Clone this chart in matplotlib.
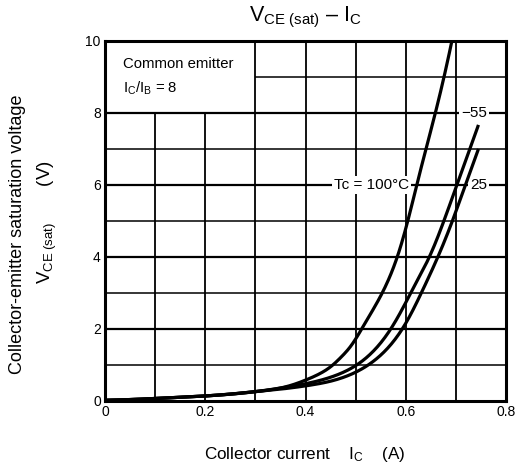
import numpy as np
import matplotlib
matplotlib.use("Agg")
import matplotlib.pyplot as plt

plt.rcParams['font.family'] = ['Liberation Sans', 'DejaVu Sans']
plt.rcParams['mathtext.fontset'] = 'custom'
plt.rcParams['mathtext.rm'] = 'Liberation Sans'
plt.rcParams['mathtext.it'] = 'Liberation Sans'

# VCE(sat) vs IC curves at each case temperature
ic_100 = [0, 0.1, 0.2, 0.3, 0.35, 0.4, 0.45, 0.469, 0.489, 0.512, 0.553, 0.583, 0.604, 0.622, 0.659, 0.692]
vce_100 = [0.02, 0.07, 0.14, 0.26, 0.36, 0.58, 0.95, 1.19, 1.5, 2, 3, 4, 5, 6, 8, 10]

ic_m55 = [0, 0.1, 0.2, 0.3, 0.35, 0.4, 0.45, 0.502, 0.57, 0.61, 0.647, 0.676, 0.702, 0.745]
vce_m55 = [0.02, 0.07, 0.14, 0.26, 0.36, 0.48, 0.66, 1, 2, 3, 4, 5, 6, 7.67]

ic_25 = [0, 0.1, 0.2, 0.3, 0.35, 0.4, 0.45, 0.525, 0.593, 0.631, 0.664, 0.693, 0.719, 0.745]
vce_25 = [0.02, 0.07, 0.14, 0.26, 0.33, 0.42, 0.55, 1, 2, 3, 4, 5, 6, 7.0]

x_ticks = [0, 0.2, 0.4, 0.6, 0.8]
x_ticklabels = ['0', '0.2', '0.4', '0.6', '0.8']
y_ticks = [0, 2, 4, 6, 8, 10]


def spline(x, y, n=400):
    # natural cubic spline through the points, for a smooth drawn curve
    x = np.asarray(x, float)
    y = np.asarray(y, float)
    k = len(x)
    h = np.diff(x)
    A = np.zeros((k, k))
    r = np.zeros(k)
    A[0, 0] = A[-1, -1] = 1
    for i in range(1, k - 1):
        A[i, i - 1] = h[i - 1]
        A[i, i] = 2 * (h[i - 1] + h[i])
        A[i, i + 1] = h[i]
        r[i] = 6 * ((y[i + 1] - y[i]) / h[i] - (y[i] - y[i - 1]) / h[i - 1])
    M = np.linalg.solve(A, r)
    xs = np.linspace(x[0], x[-1], n)
    j = np.clip(np.searchsorted(x, xs) - 1, 0, k - 2)
    a = x[j + 1] - xs
    b = xs - x[j]
    ys = (M[j] * a**3 + M[j + 1] * b**3) / (6 * h[j]) \
        + (y[j] / h[j] - M[j] * h[j] / 6) * a + (y[j + 1] / h[j] - M[j + 1] * h[j] / 6) * b
    return xs, ys


fig = plt.figure(figsize=(5.17, 4.70), dpi=100)
ax = fig.add_axes([105 / 517, 1 - 401 / 470, 401 / 517, 360 / 470])
ax.set_xlim(0, 0.8)
ax.set_ylim(0, 10)

# grid, leaving the upper-left corner free for the condition note
for xv in np.arange(0.1, 0.75, 0.1):
    top = 8 if xv < 0.25 else 10
    ax.vlines(xv, 0, top, color='black', lw=1.3, zorder=1)
for yv in range(1, 10):
    left = 0.3 if yv == 9 else 0
    ax.hlines(yv, left, 0.8, color='black', lw=1.6 if yv % 2 == 0 else 1.1, zorder=1)

# the curves are near-exponential, so smooth them in log space
for x, y in [(ic_100, vce_100), (ic_m55, vce_m55), (ic_25, vce_25)]:
    xs, ly = spline(x, np.log(y))
    ax.plot(xs, np.exp(ly), color='black', lw=2.3, solid_capstyle='butt', zorder=3)

for s in ax.spines.values():
    s.set_linewidth(2.2)

ax.set_xticks(x_ticks)
ax.set_xticklabels(x_ticklabels)
ax.set_yticks(y_ticks)
ax.tick_params(length=0, labelsize=10, pad=3)

bb = dict(facecolor='white', edgecolor='none', pad=1.5)
ax.text(0.035, 9.35, 'Common emitter', fontsize=10.7, va='center', ha='left')
ax.text(0.035, 8.68, r'$\mathregular{I_C/I_B}$ = 8', fontsize=10.7, va='center', ha='left')
ax.text(0.532, 6, 'Tc = 100°C', fontsize=11, va='center', ha='center', bbox=bb, zorder=2)
ax.text(0.737, 8, '−55', fontsize=11, va='center', ha='center', bbox=bb, zorder=2)
ax.text(0.745, 6, '25', fontsize=11, va='center', ha='center', bbox=bb, zorder=2)

fig.text(305 / 517, 1 - 17 / 470, r'$\mathregular{V_{CE\ (sat)}}$ – $\mathregular{I_C}$',
         fontsize=15.5, ha='center', va='center')
fig.text(305 / 517, 1 - 455 / 470, r'Collector current    $\mathregular{I_C}$    (A)',
         fontsize=12.3, ha='center', va='center')
fig.text(18 / 517, 1 - 234 / 470, 'Collector-emitter saturation voltage',
         fontsize=13, ha='center', va='center', rotation=90)
fig.text(47 / 517, 1 - 222 / 470, r'$\mathregular{V_{CE\ (sat)}}$       (V)',
         fontsize=13.5, ha='center', va='center', rotation=90)

fig.savefig('out.png', dpi=100)
